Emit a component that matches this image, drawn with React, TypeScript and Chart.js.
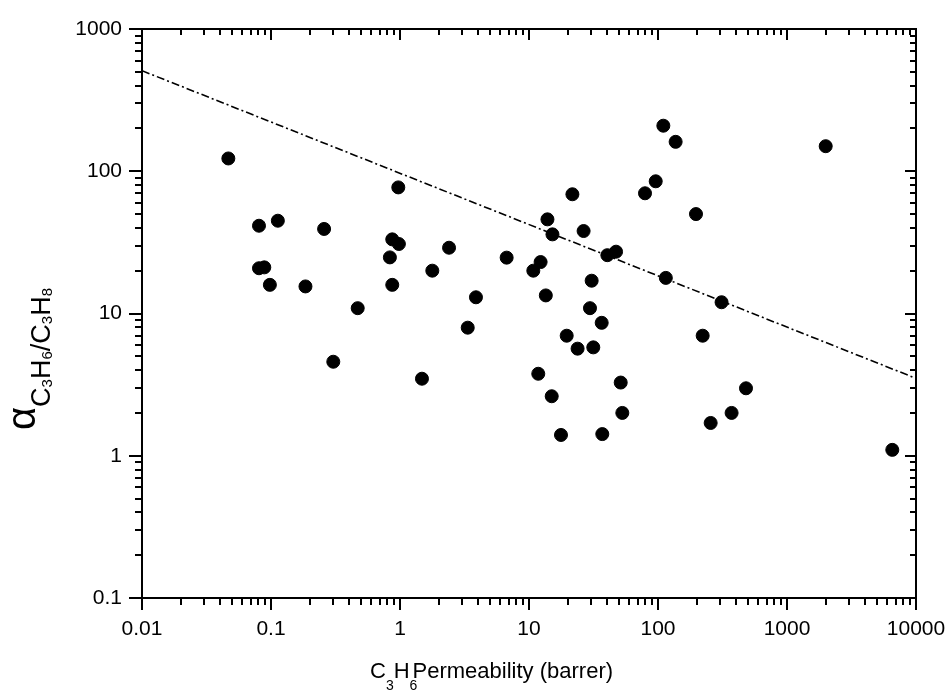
import React, { useEffect, useRef } from "react";
import { Chart, registerables } from "chart.js";

Chart.register(...registerables);

// C3H6 permeability (barrer)
const permeability = [
  0.0467, 0.97, 0.0807, 0.113, 0.258, 0.871, 0.98, 2.4, 0.835, 0.0807,
  0.0887, 1.78, 0.098, 0.185, 0.871, 3.88, 0.47, 3.35, 0.304, 1.48,
  96, 79.3, 21.7, 197, 13.9, 26.5, 15.2, 47.3, 40.5, 6.71,
  12.3, 10.8, 115, 30.6, 13.5, 311, 29.7, 36.6, 19.6, 222,
  23.8, 31.5, 11.8, 51.4, 15.0, 52.9, 372, 256, 481, 17.7,
  37, 110, 137, 1995, 6550,
];
// C3H6/C3H8 selectivity
const selectivity = [
  123, 77, 41.4, 44.9, 39.3, 33.2, 30.8, 29.0, 24.8, 20.8,
  21.1, 20.0, 15.9, 15.5, 15.9, 13.0, 10.9, 7.95, 4.58, 3.48,
  85, 70, 68.9, 50, 45.9, 38, 36, 27.2, 25.7, 24.7,
  23.0, 20.0, 17.8, 17.0, 13.4, 12.0, 10.9, 8.6, 6.98, 6.98,
  5.66, 5.78, 3.77, 3.27, 2.62, 2.0, 2.0, 1.70, 2.98, 1.40,
  1.42, 209, 161, 150, 1.10,
];
// Upper bound line
const boundX = [0.01, 10000];
const boundY = [509, 3.5];

const xTicks = [0.01, 0.1, 1, 10, 100, 1000, 10000];
const yTicks = [0.1, 1, 10, 100, 1000];

const FONT = "'Liberation Sans', Arial, Helvetica, sans-serif";

type Seg = { t: string; size: number; dy: number; adv?: number };

function drawRich(ctx: CanvasRenderingContext2D, segs: Seg[], x0: number, y0: number) {
  let x = x0;
  for (const s of segs) {
    ctx.font = `${s.size}px ${FONT}`;
    ctx.fillText(s.t, x, y0 + s.dy);
    x += s.adv !== undefined ? s.adv : ctx.measureText(s.t).width;
  }
}

const framePlugin = {
  id: "frameTicks",
  afterDraw(chart: any) {
    const { ctx, chartArea: a, scales } = chart;
    const xs = scales.x;
    const ys = scales.y;
    ctx.save();
    ctx.strokeStyle = "#000";
    ctx.lineWidth = 2;
    ctx.lineCap = "butt";
    ctx.beginPath();
    // x ticks
    for (let e = -2; e <= 4; e++) {
      for (let m = 1; m <= 9; m++) {
        const v = m * Math.pow(10, e);
        if (v > 10000 * 1.0001) break;
        const px = Math.round(xs.getPixelForValue(v));
        const major = m === 1;
        const outL = major ? 12 : 7;
        const inL = major ? 11 : 6;
        ctx.moveTo(px, a.bottom);
        ctx.lineTo(px, a.bottom + outL);
        ctx.moveTo(px, a.top);
        ctx.lineTo(px, a.top + inL);
      }
    }
    // y ticks
    for (let e = -1; e <= 3; e++) {
      for (let m = 1; m <= 9; m++) {
        const v = m * Math.pow(10, e);
        if (v > 1000 * 1.0001) break;
        const py = Math.round(ys.getPixelForValue(v));
        const major = m === 1;
        const outL = major ? 13 : 7;
        const inL = major ? 11 : 6;
        ctx.moveTo(a.left, py);
        ctx.lineTo(a.left - outL, py);
        ctx.moveTo(a.right, py);
        ctx.lineTo(a.right - inL, py);
      }
    }
    ctx.stroke();
    ctx.strokeRect(a.left, a.top, a.right - a.left, a.bottom - a.top);

    // axis titles
    ctx.fillStyle = "#000";
    ctx.textBaseline = "alphabetic";
    ctx.textAlign = "left";
    drawRich(
      ctx,
      [
        { t: "C", size: 22, dy: 0 },
        { t: "3", size: 14, dy: 12 },
        { t: "H", size: 22, dy: 0 },
        { t: "6", size: 14, dy: 12, adv: 3 },
        { t: "Permeability (barrer)", size: 22, dy: 0 },
      ],
      370,
      678
    );

    ctx.save();
    ctx.translate(50, 430);
    ctx.rotate(-Math.PI / 2);
    drawRich(
      ctx,
      [
        { t: "\u03b1", size: 40, dy: -15 },
        { t: "C", size: 27, dy: 0 },
        { t: "3", size: 15, dy: 2 },
        { t: "H", size: 27, dy: 0 },
        { t: "6", size: 15, dy: 2 },
        { t: "/C", size: 27, dy: 0 },
        { t: "3", size: 15, dy: 2 },
        { t: "H", size: 27, dy: 0 },
        { t: "8", size: 15, dy: 2 },
      ],
      0,
      0
    );
    ctx.restore();
    ctx.restore();
  },
};

export default function App() {
  const canvasRef = useRef<HTMLCanvasElement | null>(null);

  useEffect(() => {
    const canvas = canvasRef.current;
    if (!canvas) return;
    const points = permeability.map((x, i) => ({ x, y: selectivity[i] }));
    const line = boundX.map((x, i) => ({ x, y: boundY[i] }));
    const chart = new Chart(canvas, {
      type: "scatter",
      data: {
        datasets: [
          {
            data: points,
            backgroundColor: "#000",
            borderColor: "#000",
            borderWidth: 1,
            pointRadius: 6.5,
            pointHoverRadius: 6.5,
            order: 1,
          },
          {
            data: line,
            showLine: true,
            borderColor: "#000",
            borderWidth: 1.6,
            borderDash: [8, 3, 2, 3],
            pointRadius: 0,
            fill: false,
            order: 2,
          } as any,
        ],
      },
      options: {
        responsive: false,
        animation: false,
        devicePixelRatio: 1,
        layout: { padding: { top: 29, right: 33, left: 0, bottom: 0 } },
        plugins: {
          legend: { display: false },
          tooltip: { enabled: false },
          title: { display: false },
        },
        scales: {
          x: {
            type: "logarithmic",
            position: "bottom",
            min: 0.01,
            max: 10000,
            grid: { display: false, drawTicks: false },
            border: { display: false },
            ticks: {
              color: "#000",
              font: { family: FONT, size: 21 },
              padding: 19,
              autoSkip: false,
              maxRotation: 0,
              callback: (v: any) => String(v),
            },
            afterBuildTicks: (s: any) => {
              s.ticks = xTicks.map((v) => ({ value: v }));
            },
            afterFit: (s: any) => {
              s.height = 92;
              s.paddingLeft = 0;
              s.paddingRight = 0;
            },
          },
          y: {
            type: "logarithmic",
            position: "left",
            min: 0.1,
            max: 1000,
            grid: { display: false, drawTicks: false },
            border: { display: false },
            ticks: {
              color: "#000",
              font: { family: FONT, size: 21 },
              padding: 20,
              autoSkip: false,
              callback: (v: any) => String(v),
            },
            afterBuildTicks: (s: any) => {
              s.ticks = yTicks.map((v) => ({ value: v }));
            },
            afterFit: (s: any) => {
              s.width = 142;
              s.paddingTop = 0;
              s.paddingBottom = 0;
            },
          },
        },
      },
      plugins: [framePlugin],
    });
    return () => chart.destroy();
  }, []);

  return (
    <div style={{ position: "absolute", left: 0, top: 0, width: 949, height: 690, background: "#fff" }}>
      <canvas ref={canvasRef} width={949} height={690} style={{ display: "block" }} />
    </div>
  );
}
